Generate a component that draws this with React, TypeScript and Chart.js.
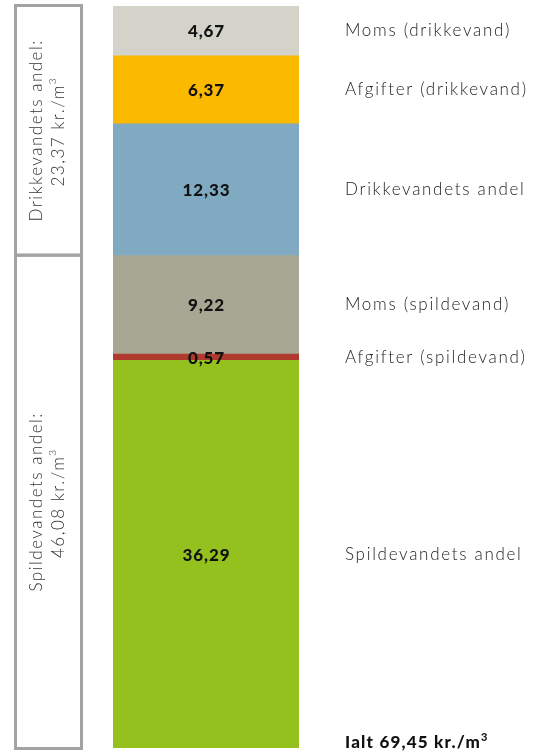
import React, { useEffect, useRef } from "react";
import { Chart, registerables } from "chart.js";
Chart.register(...registerables);

// Segments, listed from top to bottom of the stacked bar
const segmentNames = [
  "Moms (drikkevand)",
  "Afgifter (drikkevand)",
  "Drikkevandets andel",
  "Moms (spildevand)",
  "Afgifter (spildevand)",
  "Spildevandets andel",
];
const segmentValues = [4.67, 6.37, 12.33, 9.22, 0.57, 36.29];
const segmentLabels = ["4,67", "6,37", "12,33", "9,22", "0,57", "36,29"];
const segmentColors = ["#d3d3ca", "#fbb900", "#80aac2", "#a7a793", "#b03a2e", "#95c11f"];

// Group brackets (top to bottom)
const groupLine1 = ["Drikkevandets andel:", "Spildevandets andel:"];
const groupLine2 = ["23,37 kr./m", "46,08 kr./m"];
const groupValues = [23.37, 46.08];

const totalValue = 69.45;
const totalLabel = "Ialt 69,45 kr./m";

const FONT_LIGHT = "300 17px Lato, 'Open Sans', sans-serif";
const FONT_BOLD = "900 17px Lato, 'Open Sans', sans-serif";

const overlayPlugin = {
  id: "overlay",
  afterDatasetsDraw(chart: any) {
    const ctx = chart.ctx as any;
    const y = chart.scales.y;
    const area = chart.chartArea;
    const cx = (area.left + area.right) / 2;
    ctx.save();

    // value labels and right labels
    let top = totalValue;
    for (let i = 0; i < segmentValues.length; i++) {
      const bottom = top - segmentValues[i];
      const yc = (y.getPixelForValue(top) + y.getPixelForValue(bottom)) / 2;
      ctx.fillStyle = "#111";
      ctx.font = FONT_BOLD;
      ctx.letterSpacing = "0.9px";
      ctx.textAlign = "center";
      ctx.textBaseline = "middle";
      ctx.fillText(segmentLabels[i], cx + 0.5, yc + 1);
      ctx.fillStyle = "#222";
      ctx.font = FONT_LIGHT;
      ctx.letterSpacing = "1.7px";
      ctx.textAlign = "left";
      ctx.fillText(segmentNames[i], 345, yc);
      top = bottom;
    }

    // total
    ctx.fillStyle = "#111";
    ctx.font = FONT_BOLD;
    ctx.letterSpacing = "1.2px";
    ctx.textAlign = "left";
    ctx.textBaseline = "alphabetic";
    ctx.fillText(totalLabel, 345, 748);
    const tw = ctx.measureText(totalLabel).width;
    ctx.font = "900 11px Lato, sans-serif";
    ctx.letterSpacing = "0px";
    ctx.fillText("3", 345 + tw, 741);

    // group boxes
    let gTop = totalValue;
    for (let g = 0; g < groupValues.length; g++) {
      const gBottom = gTop - groupValues[g];
      let y1 = y.getPixelForValue(gTop);
      let y2 = y.getPixelForValue(gBottom);
      if (g === 0) { y1 -= 0.5; y2 -= 0.5; } else { y1 -= 0.5; y2 += 0.5; }
      ctx.strokeStyle = "#a3a3a3";
      ctx.lineWidth = 3;
      ctx.strokeRect(15.5, y1, 66, y2 - y1);
      const yc = (y1 + y2) / 2;
      ctx.save();
      ctx.translate(48, yc);
      ctx.rotate(-Math.PI / 2);
      ctx.fillStyle = "#333";
      ctx.font = FONT_LIGHT;
      ctx.letterSpacing = "1.5px";
      ctx.textAlign = "center";
      ctx.textBaseline = "middle";
      ctx.fillText(groupLine1[g], 0, -11);
      const w2 = ctx.measureText(groupLine2[g]).width;
      ctx.fillText(groupLine2[g], -5, 11);
      ctx.font = "300 10px Lato, sans-serif";
      ctx.letterSpacing = "0px";
      ctx.textAlign = "left";
      ctx.fillText("3", -5 + w2 / 2, 5);
      ctx.restore();
      gTop = gBottom;
    }
    ctx.restore();
  },
};

export default function App() {
  const ref = useRef<HTMLCanvasElement | null>(null);
  useEffect(() => {
    document.body.style.margin = "0";
    const order = segmentValues.map((_, i) => segmentValues.length - 1 - i);
    const chart = new Chart(ref.current as HTMLCanvasElement, {
      type: "bar",
      data: {
        labels: [""],
        datasets: order.map((i) => ({
          label: segmentNames[i],
          data: [segmentValues[i]],
          backgroundColor: segmentColors[i],
          borderWidth: 0,
          barPercentage: 1,
          categoryPercentage: 1,
        })),
      },
      options: {
        responsive: false,
        animation: false,
        layout: { padding: { left: 113, right: 239, top: 6, bottom: 7 } },
        plugins: { legend: { display: false }, tooltip: { enabled: false } },
        scales: {
          x: { stacked: true, display: false },
          y: { stacked: true, display: false, min: 0, max: totalValue },
        },
      },
      plugins: [overlayPlugin],
    });
    return () => chart.destroy();
  }, []);
  return (
    <div style={{ position: "absolute", left: 0, top: 0, width: 538, height: 755 }}>
      <canvas ref={ref} width={538} height={755} />
    </div>
  );
}
